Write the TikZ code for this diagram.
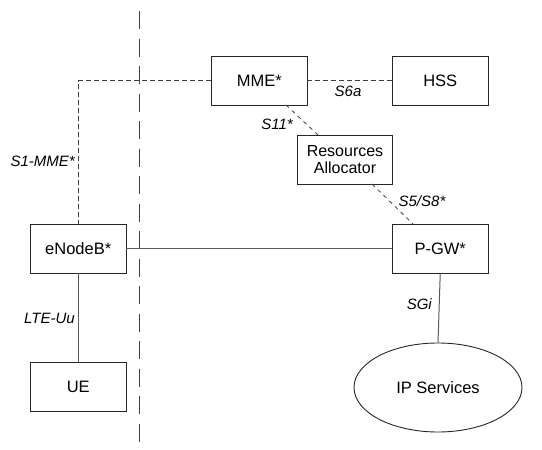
\documentclass[tikz,border=0pt]{standalone}
\usepackage{fontspec}
\setmainfont{Liberation Sans}
\usetikzlibrary{shapes.geometric}
\begin{document}
\begin{tikzpicture}[x=1pt,y=-1pt,
  box/.style={draw=black!85,line width=0.9pt,minimum width=95.5pt,minimum height=49pt,inner sep=0pt,font=\fontsize{16.5}{18}\selectfont,align=center},
  lbl/.style={font=\fontsize{15}{17}\selectfont\itshape,inner sep=0pt},
  conn/.style={draw=black!65,line width=1pt},
  dconn/.style={draw=black!75,line width=0.9pt,dash pattern=on 5pt off 3pt},
  ddiag/.style={draw=black!75,line width=0.8pt,dash pattern=on 4pt off 4pt},
  sep/.style={draw=black!75,line width=1pt,dash pattern=on 18pt off 9.5pt,dash phase=-3pt}]
\useasboundingbox (0,0) rectangle (542,450);
\node[box] (mme) at (259.25,80.5) {MME*};
\node[box] (hss) at (440.25,80.5) {HSS};
\node[box,font=\fontsize{16}{17.5}\selectfont] (ra) at (345,159.5) {Resources\\Allocator};
\node[box] (enb) at (78.25,248.5) {eNodeB*};
\node[box] (pgw) at (440.25,248.5) {P-GW*};
\node[box] (ue) at (78.25,387) {UE};
\node[draw=black!85,line width=0.9pt,ellipse,minimum width=168pt,minimum height=89pt,inner sep=0pt,font=\fontsize{16.5}{18}\selectfont] (ip) at (438,387.5) {IP Services};
\coordinate (top) at (139.5,8);
\coordinate (bot) at (139.5,450);
\draw[sep] (top) -- (bot);
\draw[dconn] (mme.west) -| (enb.north);
\draw[dconn] (mme.east) -- (hss.west);
\draw[ddiag] (286,105) -- (318,135);
\draw[ddiag] (372,184) -- (413,224);
\draw[conn] (enb.east) -- (pgw.west);
\draw[conn] (enb.south) -- (ue.north);
\draw[conn] (pgw.south) -- (ip.north);
\node[lbl,anchor=east] (l1) at (75,161) {S1-MME*};
\node[lbl] (l2) at (348,91) {S6a};
\node[lbl] (l3) at (277,124) {S11*};
\node[lbl] (l4) at (422,201) {S5/S8*};
\node[lbl,anchor=east] (l5) at (75,318.5) {LTE-Uu};
\node[lbl,anchor=east] (l6) at (432,304) {SGi};
\end{tikzpicture}
\end{document}
